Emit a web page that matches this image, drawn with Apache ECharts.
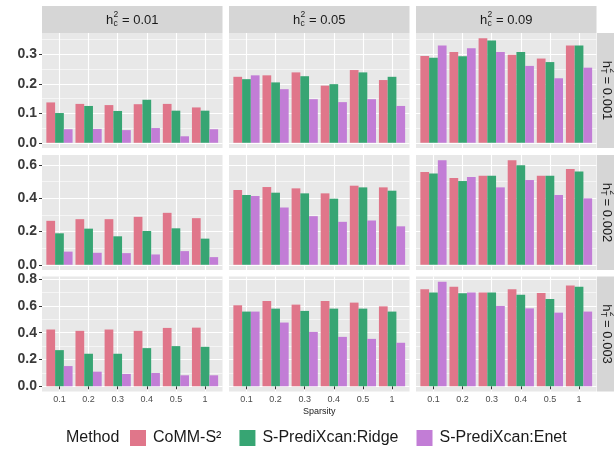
<!DOCTYPE html>
<html><head><meta charset="utf-8">
<script src="https://cdn.jsdelivr.net/npm/echarts@6/dist/echarts.min.js"></script>
<style>html,body{margin:0;padding:0;background:#fff}#c{width:614px;height:459px}</style>
</head><body><div id="c"></div><script>
// ---------- data ----------
const sparsity = ['0.1','0.2','0.3','0.4','0.5','1'];
const methods = ['CoMM-S\u00B2','S-PrediXcan:Ridge','S-PrediXcan:Enet'];
const hc2Labels = ['0.01','0.05','0.09'];
const hT2Labels = ['0.001','0.002','0.003'];
const yTicks = [[0,0.1,0.2,0.3],[0,0.2,0.4,0.6],[0,0.2,0.4,0.6,0.8]];
const yMinorTicks = [[0.05,0.15,0.25,0.35],[0.1,0.3,0.5],[0.1,0.3,0.5,0.7]];

// h_T^2 = 0.001
const comm_T001_C001  = [0.137,0.132,0.128,0.131,0.132,0.120];
const ridge_T001_C001 = [0.101,0.125,0.108,0.146,0.109,0.109];
const enet_T001_C001  = [0.046,0.047,0.043,0.050,0.022,0.046];
const comm_T001_C005  = [0.224,0.229,0.239,0.194,0.247,0.213];
const ridge_T001_C005 = [0.216,0.205,0.226,0.199,0.239,0.224];
const enet_T001_C005  = [0.229,0.182,0.148,0.138,0.148,0.125];
const comm_T001_C009  = [0.295,0.308,0.355,0.299,0.286,0.330];
const ridge_T001_C009 = [0.289,0.294,0.347,0.308,0.274,0.330];
const enet_T001_C009  = [0.330,0.321,0.308,0.261,0.219,0.255];
// h_T^2 = 0.002
const comm_T002_C001  = [0.264,0.274,0.274,0.288,0.312,0.280];
const ridge_T002_C001 = [0.189,0.217,0.171,0.203,0.219,0.157];
const enet_T002_C001  = [0.079,0.072,0.070,0.062,0.082,0.046];
const comm_T002_C005  = [0.449,0.467,0.459,0.429,0.475,0.465];
const ridge_T002_C005 = [0.419,0.433,0.429,0.397,0.465,0.445];
const enet_T002_C005  = [0.413,0.344,0.292,0.258,0.266,0.231];
const comm_T002_C009  = [0.558,0.521,0.535,0.628,0.535,0.576];
const ridge_T002_C009 = [0.548,0.503,0.535,0.598,0.535,0.560];
const enet_T002_C009  = [0.628,0.527,0.465,0.509,0.419,0.399];
// h_T^2 = 0.003
const comm_T003_C001  = [0.424,0.414,0.424,0.414,0.436,0.438];
const ridge_T003_C001 = [0.270,0.243,0.243,0.285,0.300,0.295];
const enet_T003_C001  = [0.151,0.109,0.092,0.099,0.082,0.082];
const comm_T003_C005  = [0.605,0.637,0.610,0.637,0.625,0.597];
const ridge_T003_C005 = [0.558,0.580,0.563,0.580,0.580,0.558];
const enet_T003_C005  = [0.558,0.476,0.406,0.369,0.354,0.325];
const comm_T003_C009  = [0.724,0.743,0.701,0.724,0.696,0.753];
const ridge_T003_C009 = [0.701,0.694,0.701,0.684,0.652,0.743];
const enet_T003_C009  = [0.781,0.701,0.600,0.582,0.550,0.558];

const panels = [
  [[comm_T001_C001,ridge_T001_C001,enet_T001_C001],[comm_T001_C005,ridge_T001_C005,enet_T001_C005],[comm_T001_C009,ridge_T001_C009,enet_T001_C009]],
  [[comm_T002_C001,ridge_T002_C001,enet_T002_C001],[comm_T002_C005,ridge_T002_C005,enet_T002_C005],[comm_T002_C009,ridge_T002_C009,enet_T002_C009]],
  [[comm_T003_C001,ridge_T003_C001,enet_T003_C001],[comm_T003_C005,ridge_T003_C005,enet_T003_C005],[comm_T003_C009,ridge_T003_C009,enet_T003_C009]]
];

// ---------- layout / style ----------
const colors = ['#E0768A','#37A573','#C27DD6'];
const PANEL_LEFT = [42, 229, 416], PANEL_W = 180.5;
const PANEL_TOP = [33, 155, 276.5], PANEL_H = 115;
const PANEL_BG = '#E8E8E8', STRIP_BG = '#D6D6D6';
const FONT = 'Liberation Sans, Arial, sans-serif';

const grids = [], xAxes = [], yAxes = [], series = [], graphics = [];

for (let r = 0; r < 3; r++) {
  const rowMax = Math.max(...panels[r].flat(2));
  const lo = -0.05 * rowMax, hi = 1.05 * rowMax;
  for (let c = 0; c < 3; c++) {
    const L = PANEL_LEFT[c], T = PANEL_TOP[r];
    // background grid: panel fill + grid lines
    const gb = grids.length;
    grids.push({left:L, top:T, width:PANEL_W, height:PANEL_H, show:true, backgroundColor:PANEL_BG, borderWidth:0, containLabel:false, outerBoundsMode:'none'});
    xAxes.push({gridIndex:gb, type:'value', min:0.4, max:sparsity.length + 0.6,
      axisLine:{show:false}, axisTick:{show:false, customValues:sparsity.map((_, i) => i + 1)},
      axisLabel:{show:false}, splitLine:{show:true, lineStyle:{color:'#fff', width:1.1}}});
    yAxes.push({gridIndex:gb, type:'value', min:lo, max:hi, position:'left',
      axisLine:{show:false},
      axisTick:{show:c === 0, length:3, lineStyle:{color:'#333', width:1}, customValues:yTicks[r]},
      axisLabel:{show:c === 0, customValues:yTicks[r], formatter:v => v.toFixed(1), fontSize:14, fontWeight:'bold', color:'#3a3a3a', margin:5, fontFamily:FONT},
      splitLine:{show:true, lineStyle:{color:'#fff', width:1.1}}});
    yAxes.push({gridIndex:gb, type:'value', min:lo, max:hi, position:'left',
      axisLine:{show:false}, axisTick:{show:false, customValues:yMinorTicks[r]},
      axisLabel:{show:false}, splitLine:{show:true, lineStyle:{color:'#fff', width:0.55}}});
    // bar grid: x inset like ggplot's discrete expansion (0.6 units vs 0.5)
    const inset = PANEL_W * 0.1 / (sparsity.length + 0.2);
    const gd = grids.length;
    grids.push({left:L + inset, top:T, width:PANEL_W - 2 * inset, height:PANEL_H, show:false, containLabel:false, outerBoundsMode:'none'});
    const xd = xAxes.length;
    const isNameAxis = (r === 2 && c === 1);
    xAxes.push({gridIndex:gd, type:'category', data:sparsity,
      axisLine:{show:false},
      axisTick:{show:r === 2, alignWithLabel:true, length:3, lineStyle:{color:'#333'}},
      axisLabel:{show:r === 2, fontSize:9, color:'#4d4d4d', margin:4, fontFamily:FONT},
      splitLine:{show:false},
      name:isNameAxis ? 'Sparsity' : '', nameLocation:'middle', nameGap:16,
      nameTextStyle:{fontSize:9, color:'#222', fontFamily:FONT}});
    const yd = yAxes.length;
    yAxes.push({gridIndex:gd, type:'value', min:lo, max:hi, show:false});
    for (let k = 0; k < 3; k++) {
      series.push({type:'bar', name:methods[k], xAxisIndex:xd, yAxisIndex:yd,
        data:panels[r][c][k], barWidth:'30%', barGap:'0%',
        itemStyle:{color:colors[k]}, silent:true});
    }
  }
}

function hLabel(sub, val, cx, cy, rot) {
  const fs = 13, fsS = 8.5;
  const w = 0.556 * fs + 0.6 * fsS + (0.278 * 3 + 0.584 + 0.556 * (val.length - 1)) * fs;
  const x0 = -w / 2;
  const base = {fill:'#1a1a1a', fontFamily:FONT, align:'left', verticalAlign:'middle'};
  return {type:'group', x:cx, y:cy, rotation:rot || 0, children:[
    {type:'text', x:x0, y:0, style:Object.assign({text:'h', fontSize:fs}, base)},
    {type:'text', x:x0 + 0.556 * fs + 0.3, y:-5, style:Object.assign({text:'2', fontSize:fsS}, base)},
    {type:'text', x:x0 + 0.556 * fs + 0.3, y:4, style:Object.assign({text:sub, fontSize:fsS}, base)},
    {type:'text', x:x0 + 0.556 * fs + 0.6 * fsS, y:0, style:Object.assign({text:' = ' + val, fontSize:fs}, base)}
  ]};
}

for (let c = 0; c < 3; c++) {
  graphics.push({type:'rect', shape:{x:PANEL_LEFT[c], y:6, width:PANEL_W, height:27}, style:{fill:STRIP_BG}, silent:true});
  graphics.push(hLabel('c', hc2Labels[c], PANEL_LEFT[c] + PANEL_W / 2, 20, 0));
}
for (let r = 0; r < 3; r++) {
  graphics.push({type:'rect', shape:{x:597, y:PANEL_TOP[r], width:26, height:PANEL_H}, style:{fill:STRIP_BG}, silent:true});
  graphics.push(hLabel('T', hT2Labels[r], 607, PANEL_TOP[r] + PANEL_H / 2, -Math.PI / 2));
}
graphics.push({type:'text', x:66, y:438, style:{text:'Method', fontSize:16, fill:'#1a1a1a', fontFamily:FONT, align:'left', verticalAlign:'middle'}});

const chart = echarts.init(document.getElementById('c'), null, {renderer:'canvas'});
chart.setOption({
  animation:false,
  backgroundColor:'#ffffff',
  textStyle:{fontFamily:FONT},
  grid:grids, xAxis:xAxes, yAxis:yAxes, series:series,
  legend:{left:130, top:430, padding:0, itemWidth:16, itemHeight:16, itemGap:18, icon:'rect',
    selectedMode:false, data:methods,
    textStyle:{fontSize:16, color:'#1a1a1a', fontFamily:FONT, padding:[0,0,0,2]}},
  graphic:graphics
});
</script></body></html>
